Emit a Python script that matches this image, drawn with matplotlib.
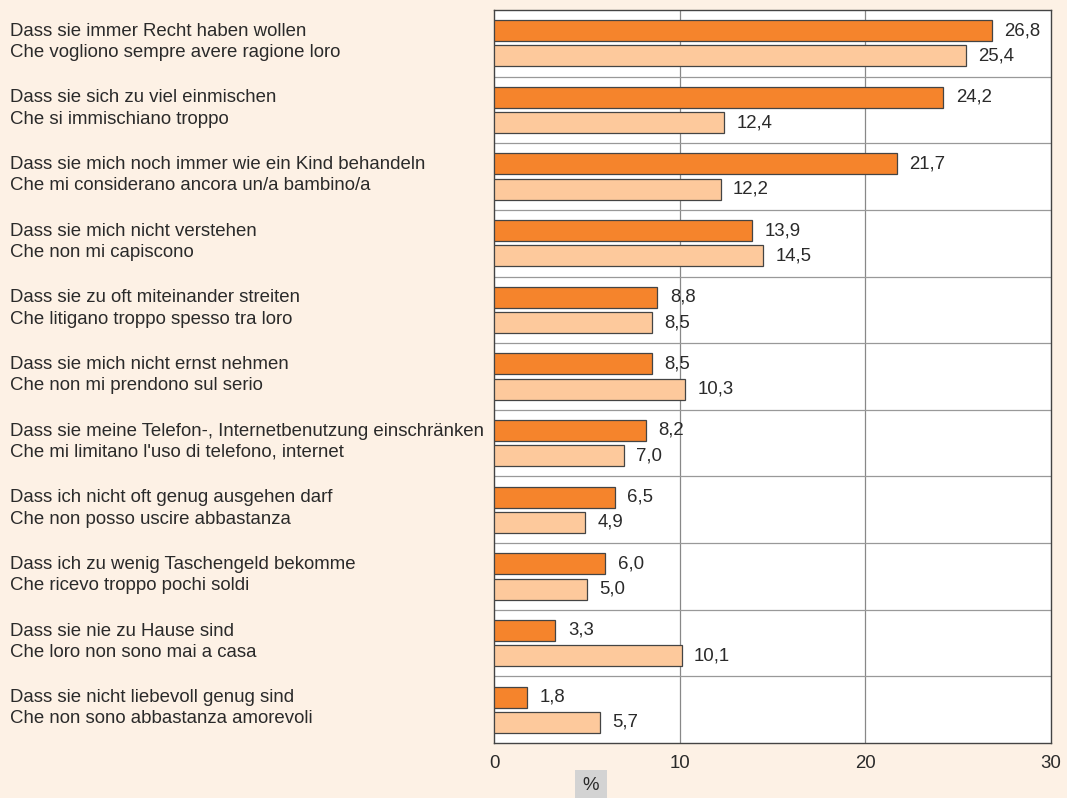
import numpy as np
import matplotlib.pyplot as plt
from matplotlib.transforms import blended_transform_factory

plt.rcParams['font.family'] = ['Liberation Sans', 'DejaVu Sans']

labels_de = [
    "Dass sie immer Recht haben wollen",
    "Dass sie sich zu viel einmischen",
    "Dass sie mich noch immer wie ein Kind behandeln",
    "Dass sie mich nicht verstehen",
    "Dass sie zu oft miteinander streiten",
    "Dass sie mich nicht ernst nehmen",
    "Dass sie meine Telefon-, Internetbenutzung einschränken",
    "Dass ich nicht oft genug ausgehen darf",
    "Dass ich zu wenig Taschengeld bekomme",
    "Dass sie nie zu Hause sind",
    "Dass sie nicht liebevoll genug sind",
]
labels_it = [
    "Che vogliono sempre avere ragione loro",
    "Che si immischiano troppo",
    "Che mi considerano ancora un/a bambino/a",
    "Che non mi capiscono",
    "Che litigano troppo spesso tra loro",
    "Che non mi prendono sul serio",
    "Che mi limitano l'uso di telefono, internet",
    "Che non posso uscire abbastanza",
    "Che ricevo troppo pochi soldi",
    "Che loro non sono mai a casa",
    "Che non sono abbastanza amorevoli",
]
values_de = [26.8, 24.2, 21.7, 13.9, 8.8, 8.5, 8.2, 6.5, 6.0, 3.3, 1.8]
values_it = [25.4, 12.4, 12.2, 14.5, 8.5, 10.3, 7.0, 4.9, 5.0, 10.1, 5.7]
xticks = [0, 10, 20, 30]

bg = '#fdf1e5'
dark = '#f5842c'
light = '#fdc99c'
txt = '#2a2a2a'
fs = 13.4

fig = plt.figure(figsize=(10.67, 7.98), dpi=100, facecolor=bg)
ax = fig.add_axes([494 / 1067, 1 - 743 / 798, 557 / 1067, 733 / 798])
ax.set_facecolor('white')

n = len(values_de)
y = np.arange(n)
h = 0.315
off = 0.19
ax.barh(y - off, values_de, height=h, color=dark, edgecolor='#444444', linewidth=0.9, zorder=3)
ax.barh(y + off, values_it, height=h, color=light, edgecolor='#444444', linewidth=0.9, zorder=3)

for i in range(n):
    ax.annotate(f"{values_de[i]:.1f}".replace('.', ','), (values_de[i], y[i] - off),
                xytext=(9, 0), textcoords='offset points', va='center', ha='left',
                fontsize=fs, color=txt, zorder=4)
    ax.annotate(f"{values_it[i]:.1f}".replace('.', ','), (values_it[i], y[i] + off),
                xytext=(9, 0), textcoords='offset points', va='center', ha='left',
                fontsize=fs, color=txt, zorder=4)

ax.set_xlim(0, 30)
ax.set_ylim(n - 0.5, -0.5)
ax.set_xticks(xticks)
ax.set_xticklabels([str(t) for t in xticks], fontsize=fs, color=txt)
ax.tick_params(axis='x', length=0, pad=9)
ax.set_yticks([])
for xv in xticks[1:-1]:
    ax.axvline(xv, color='#888888', linewidth=0.9, zorder=1)
for k in range(1, n):
    ax.axhline(k - 0.5, color='#999999', linewidth=0.9, zorder=1)
for s in ax.spines.values():
    s.set_color('#444444')
    s.set_linewidth(1.0)

tr = blended_transform_factory(fig.transFigure, ax.transData)
for i in range(n):
    ax.text(10 / 1067, y[i] - 0.02, labels_de[i] + "\n" + labels_it[i], transform=tr,
            ha='left', va='center', fontsize=fs, color=txt, linespacing=1.33)

fig.text(591 / 1067, 12 / 798, "%", ha='center', va='center', fontsize=fs, color=txt,
         bbox=dict(boxstyle='square,pad=0.4', facecolor='#d3d3d3', edgecolor='none'))

fig.savefig('out.png', dpi=100, facecolor=bg)
